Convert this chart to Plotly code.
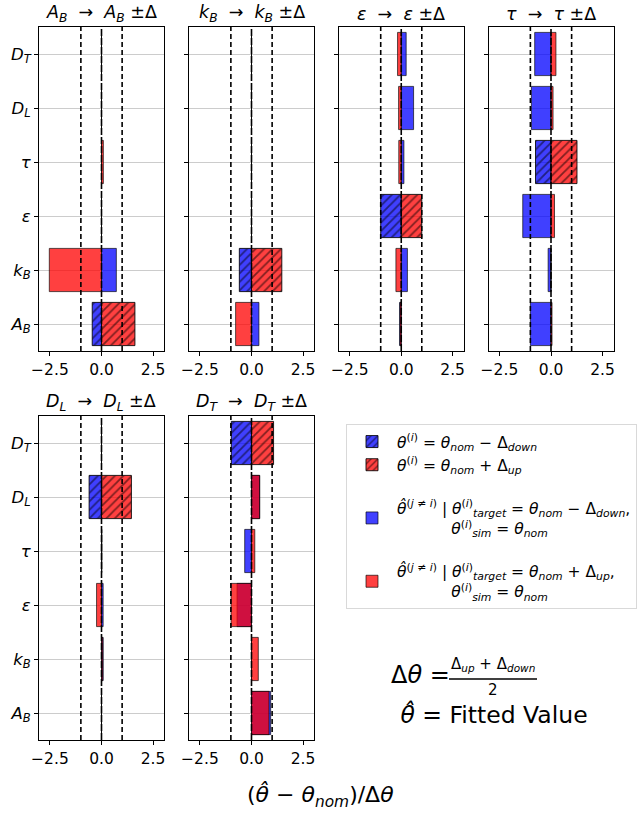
import plotly.graph_objects as go

# ---------------- data ----------------
params = ["A_B", "k_B", "eps", "tau", "D_L", "D_T"]          # y order, bottom -> top
param_labels = ["<i>A</i><sub><i>B</i></sub>", "<i>k</i><sub><i>B</i></sub>", "<i>ε</i>",
                "<i>τ</i>", "<i>D</i><sub><i>L</i></sub>", "<i>D</i><sub><i>T</i></sub>"]
targets = ["A_B", "k_B", "eps", "tau", "D_L", "D_T"]          # one panel per target
x_ticks = [-2.5, 0.0, 2.5]
x_tick_labels = ["−2.5", "0.0", "2.5"]
delta_lines = [-1.0, 0.0, 1.0]

# (theta_hat - theta_nom)/dtheta, listed in the order of `params`
ab_down = [-0.45, 0.72, 0.0, 0.0, 0.0, 0.0]
ab_up = [1.62, -2.53, 0.0, 0.09, 0.0, 0.0]
kb_down = [0.36, -0.59, 0.0, 0.0, 0.0, 0.0]
kb_up = [-0.77, 1.47, 0.0, 0.0, 0.0, 0.0]
eps_down = [-0.08, 0.30, -1.0, 0.13, 0.60, 0.24]
eps_up = [-0.06, -0.26, 1.0, -0.12, -0.13, -0.18]
tau_down = [-1.0, -0.14, -1.37, -0.75, -0.95, -0.79]
tau_up = [0.05, 0.0, 0.17, 1.26, 0.10, 0.24]
dl_down = [0.0, 0.08, 0.08, 0.02, -0.60, 0.0]
dl_up = [0.0, 0.06, -0.24, 0.0, 1.45, 0.0]
dt_down = [0.93, 0.0, -0.70, -0.33, 0.40, -0.98]
dt_up = [0.85, 0.33, -0.99, 0.16, 0.39, 1.07]

panel_down = [ab_down, kb_down, eps_down, tau_down, dl_down, dt_down]
panel_up = [ab_up, kb_up, eps_up, tau_up, dl_up, dt_up]

TH = "<i>θ</i>"
THH = "<i>θ̂</i>"
NOM = "<sub><i>nom</i></sub>"
legend_names = [
    f"{TH}<sup>(<i>i</i>)</sup> = {TH}{NOM} − Δ<sub><i>down</i></sub>",
    f"{TH}<sup>(<i>i</i>)</sup> = {TH}{NOM} + Δ<sub><i>up</i></sub>",
    f"{THH}<sup>(<i>j</i> ≠ <i>i</i>)</sup> | {TH}<sup>(<i>i</i>)</sup><sub><i>target</i></sub> = {TH}{NOM} − Δ<sub><i>down</i></sub>,"
    f"<br>           {TH}<sup>(<i>i</i>)</sup><sub><i>sim</i></sub> = {TH}{NOM}",
    f"{THH}<sup>(<i>j</i> ≠ <i>i</i>)</sup> | {TH}<sup>(<i>i</i>)</sup><sub><i>target</i></sub> = {TH}{NOM} + Δ<sub><i>up</i></sub>,"
    f"<br>           {TH}<sup>(<i>i</i>)</sup><sub><i>sim</i></sub> = {TH}{NOM}",
]
legend_groups = ["hatch", "hatch", "fit_down", "fit_up"]

# ---------------- styling / layout ----------------
W, H = 639, 813
FONT = "DejaVu Sans"
BLUE = "rgba(0,0,255,0.75)"
RED = "rgba(255,0,0,0.75)"
EDGE = "rgba(0,0,0,0.65)"
col_px = [(39, 164), (189, 314), (339, 463.5), (488.5, 613.5)]
row_px = [(27, 351), (416, 740)]
panel_pos = [(0, 0), (0, 1), (0, 2), (0, 3), (1, 0), (1, 1)]

fig = go.Figure()
layout_axes = {}
shapes = []
annotations = []

for k, (target, down, up) in enumerate(zip(targets, panel_down, panel_up)):
    n = k + 1
    sfx = "" if n == 1 else str(n)
    xa, ya = f"x{sfx}", f"y{sfx}"
    r, c = panel_pos[k]
    idx = params.index(target)
    others = [i for i in range(len(params)) if i != idx]
    first = (k == 0)

    # hatched: the target parameter itself moved by -Δdown / +Δup
    for vals, col, li in ((down, BLUE, 0), (up, RED, 1)):
        fig.add_trace(go.Bar(
            x=[vals[idx]], y=[params[idx]], base=0, orientation="h", width=0.8,
            xaxis=xa, yaxis=ya, name=legend_names[li], legendgroup=legend_groups[li],
            showlegend=first, legendrank=li + 1,
            marker=dict(color=col, line=dict(color="rgba(0,0,0,0.85)", width=1),
                        pattern=dict(shape="/", fgcolor="black", size=6,
                                     solidity=0.3, fillmode="overlay")),
            hoverinfo="skip"))
    # solid: fitted values of the other parameters
    for vals, col, li in ((down, BLUE, 2), (up, RED, 3)):
        fig.add_trace(go.Bar(
            x=[vals[i] for i in others], y=[params[i] for i in others], base=0,
            orientation="h", width=0.8, xaxis=xa, yaxis=ya, name=legend_names[li],
            legendgroup=legend_groups[li], showlegend=first, legendrank=li + 1,
            marker=dict(color=col, line=dict(color=EDGE, width=1)),
            hoverinfo="skip"))

    l, rr = col_px[c]
    t, b = row_px[r]
    layout_axes[f"xaxis{sfx}"] = dict(
        domain=[l / W, rr / W], anchor=ya, range=[-3.03, 3.03], automargin=False,
        tickvals=x_ticks, ticktext=x_tick_labels, ticks="outside", ticklen=4,
        tickcolor="black", showgrid=False, zeroline=False, showline=True, mirror=True,
        linecolor="black", linewidth=1, tickfont=dict(size=15.5, color="black"))
    layout_axes[f"yaxis{sfx}"] = dict(
        domain=[(H - b) / H, (H - t) / H], anchor=xa, type="category", automargin=False,
        categoryorder="array", categoryarray=params, range=[-0.5, 5.5],
        tickvals=params, ticktext=param_labels, showticklabels=(c == 0),
        ticks="outside", ticklen=4, tickcolor="black", showgrid=True,
        gridcolor="#cccccc", gridwidth=1, zeroline=False, showline=True, mirror=True,
        linecolor="black", linewidth=1, tickfont=dict(size=16.5, color="black"))

    for xv in delta_lines:
        shapes.append(dict(type="line", xref=xa, yref=f"{ya} domain", x0=xv, x1=xv,
                           y0=0, y1=1, layer="above",
                           line=dict(color="black", width=1.6,
                                     dash="7px,2px" if xv == 0 else "5px,3px")))

    lab = param_labels[idx]
    annotations.append(dict(
        text=f"{lab}  →  {lab} ±Δ", xref="paper", yref="paper",
        x=(l + rr) / 2 / W, y=(H - t + 13) / H, xanchor="center", yanchor="middle",
        showarrow=False, font=dict(size=17.5, color="black")))

# axis title
annotations.append(dict(text=f"({THH} − {TH}{NOM})/Δ{TH}", xref="paper", yref="paper",
                        x=320 / W, y=1 - 796 / H, xanchor="center", yanchor="middle",
                        showarrow=False, font=dict(size=22, color="black")))
# formula block
annotations.append(dict(text=f"Δ{TH} =", xref="paper", yref="paper", x=389 / W, y=1 - 675 / H,
                        xanchor="left", yanchor="middle", showarrow=False,
                        font=dict(size=24, color="black")))
annotations.append(dict(text="Δ<sub><i>up</i></sub> + Δ<sub><i>down</i></sub>", xref="paper",
                        yref="paper", x=493 / W, y=1 - 664 / H, xanchor="center",
                        yanchor="middle", showarrow=False, font=dict(size=15, color="black")))
annotations.append(dict(text="2", xref="paper", yref="paper", x=493 / W, y=1 - 690 / H,
                        xanchor="center", yanchor="middle", showarrow=False,
                        font=dict(size=15, color="black")))
shapes.append(dict(type="line", xref="paper", yref="paper", x0=449 / W, x1=537 / W,
                   y0=1 - 679 / H, y1=1 - 679 / H, line=dict(color="black", width=1.5)))
annotations.append(dict(text=f" {THH} = Fitted Value", xref="paper", yref="paper", x=391 / W,
                        y=1 - 714 / H, xanchor="left", yanchor="middle", showarrow=False,
                        font=dict(size=23.5, color="black")))

fig.update_layout(
    width=W, height=H, margin=dict(l=0, r=0, t=0, b=0, autoexpand=False),
    paper_bgcolor="white", plot_bgcolor="white", barmode="overlay",
    font=dict(family=FONT, color="black"),
    shapes=shapes, annotations=annotations,
    legend=dict(x=346 / W, y=1 - 424 / H, xanchor="left", yanchor="top",
                bordercolor="#d9d9d9", borderwidth=1, bgcolor="white",
                font=dict(size=15.5, color="black"), itemwidth=40, tracegroupgap=20,
                traceorder="grouped", valign="middle"),
    **layout_axes)

fig.write_html("out.html")
